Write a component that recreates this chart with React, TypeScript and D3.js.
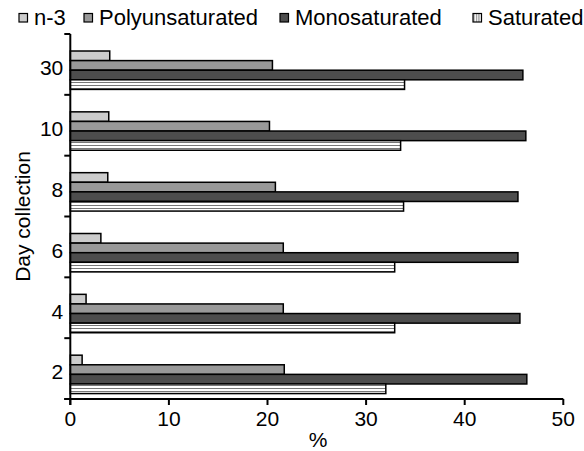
import React from "react";
import * as d3 from "d3";

const days = ["2", "4", "6", "8", "10", "30"];
const seriesNames = ["n-3", "Polyunsaturated", "Monosaturated", "Saturated"];
const n3 = [1.2, 1.6, 3.1, 3.8, 3.9, 4.0];
const poly = [21.7, 21.6, 21.6, 20.8, 20.2, 20.5];
const mono = [46.3, 45.6, 45.4, 45.4, 46.2, 45.9];
const sat = [32.0, 32.9, 32.9, 33.8, 33.5, 33.9];
const xTicks = [0, 10, 20, 30, 40, 50];

const fills = ["#cccccc", "#999999", "#4d4d4d", "url(#hstripes)"];

export default function App() {
  const W = 584, H = 451;
  const left = 70.3, right = 563.3, top = 34, bottom = 399;
  const x = d3.scaleLinear().domain([0, 50]).range([left, right]);
  const y = d3.scaleBand().domain([...days].reverse()).range([top, bottom]).paddingInner(0).paddingOuter(0);
  const series = [n3, poly, mono, sat];
  const bw = y.bandwidth();
  const barH = 9.6;
  const offset = 17 * (bw / 60.8);
  const font = "Arial, 'Liberation Sans', sans-serif";
  const boundaries = [...days.map(d => y(d)!), bottom];
  const legendX = [19, 84, 280, 473];
  const fs = 21;

  return (
    <svg width={W} height={H} style={{ position: "absolute", left: 0, top: 0 }}>
      <defs>
        <pattern id="hstripes" patternUnits="userSpaceOnUse" width="4" height="3">
          <rect width="4" height="3" fill="#ffffff" />
          <rect y="1" width="4" height="1" fill="#777777" />
        </pattern>
        <pattern id="vstripes" patternUnits="userSpaceOnUse" width="2.5" height="4">
          <rect width="2.5" height="4" fill="#ffffff" />
          <rect x="1" width="1" height="4" fill="#777777" />
        </pattern>
      </defs>
      {days.map((d, di) =>
        series.map((s, si) => (
          <rect
            key={d + si}
            x={x(0)}
            y={y(d)! + offset + si * barH}
            width={x(s[di]) - x(0)}
            height={barH}
            fill={fills[si]}
            stroke="#000"
            strokeWidth={1.5}
          />
        ))
      )}
      <line x1={left} x2={left} y1={top} y2={bottom + 6} stroke="#000" strokeWidth={2} />
      <line x1={left - 6} x2={right} y1={bottom} y2={bottom} stroke="#000" strokeWidth={2} />
      {boundaries.map((b, i) => (
        <line key={"yt" + i} x1={left - 6} x2={left} y1={b} y2={b} stroke="#000" strokeWidth={2} />
      ))}
      {xTicks.map(t => (
        <g key={"xt" + t}>
          <line x1={x(t)} x2={x(t)} y1={bottom} y2={bottom + 6} stroke="#000" strokeWidth={2} />
          <text x={x(t)} y={426} textAnchor="middle" fontFamily={font} fontSize={fs} fill="#000">{t}</text>
        </g>
      ))}
      {days.map(d => (
        <text key={"yl" + d} x={left - 7} y={y(d)! + offset + 2 * barH + 5} textAnchor="end" fontFamily={font} fontSize={fs} fill="#000">{d}</text>
      ))}
      <text x={318} y={447} textAnchor="middle" fontFamily={font} fontSize={fs} fill="#000">%</text>
      <text transform={`translate(30, ${(top + bottom) / 2}) rotate(-90)`} textAnchor="middle" fontFamily={font} fontSize={fs} fill="#000">Day collection</text>
      {seriesNames.map((n, i) => (
        <g key={"lg" + n}>
          <rect x={legendX[i]} y={13.5} width={8.5} height={8.5} fill={i === 3 ? "url(#vstripes)" : fills[i]} stroke="#000" strokeWidth={1.2} />
          <text x={legendX[i] + 15} y={25} fontFamily={font} fontSize={22} fill="#000">{n}</text>
        </g>
      ))}
    </svg>
  );
}
